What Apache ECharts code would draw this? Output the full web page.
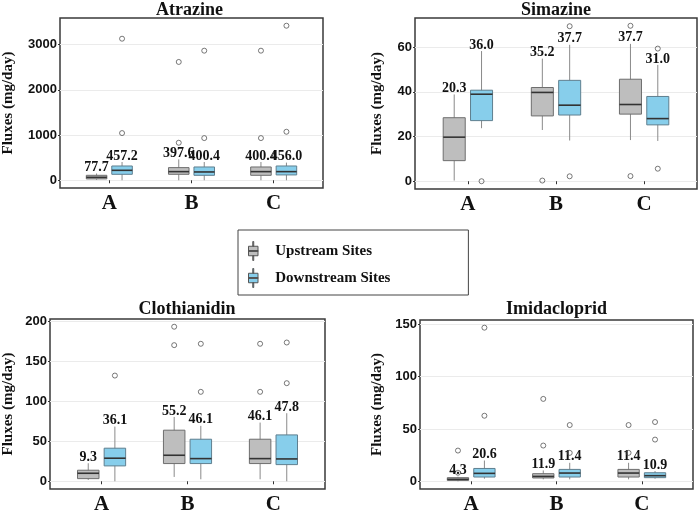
<!DOCTYPE html>
<html>
	<head>
		<title>Fluxes boxplots</title>
		<meta charset="utf-8"/>
		<style type="text/css">
			*{margin: 0;padding: 0;}
			html,body{background-color: #fff;}
			.charts{
				width: 700px;
				height: 520px;
			}
		</style>
		<script type="text/javascript" src="https://cdn.jsdelivr.net/npm/echarts@6/dist/echarts.min.js"></script>
	</head>
	<body>
		<div class="charts js-main"></div>
		<script type="text/javascript">
			var categories = ["A", "B", "C"];
			var groupNames = ["Upstream Sites", "Downstream Sites"];

			// [min, q1, median, q3, max] for A, B, C
			var atrazineUp = [[10, 30, 65, 110, 150], [0, 132, 191, 280, 463], [0, 110, 191, 294, 404]];
			var atrazineDown = [[0, 132, 220, 316, 404], [0, 110, 184, 294, 404], [0, 118, 191, 316, 390]];
			var atrazineUpMean = [77.7, 397.6, 400.4];
			var atrazineDownMean = [457.2, 400.4, 456.0];
			var atrazineUpOut = [[], [2617, 830], [2866, 933]];
			var atrazineDownOut = [[3131, 1044], [2866, 933], [3418, 1073]];
			var atrazineTicks = [0, 1000, 2000, 3000];

			var simazineUp = [[0.3, 9.2, 19.7, 28.4, 38.8], [22.9, 29.2, 39.7, 41.9, 54.8], [18.4, 30.0, 34.3, 45.6, 61.4]];
			var simazineDown = [[23.7, 27.1, 38.9, 40.7, 58.2], [18.2, 29.6, 34.0, 45.1, 61.0], [18.0, 25.2, 28.0, 37.9, 52.0]];
			var simazineUpMean = [20.3, 35.2, 37.7];
			var simazineDownMean = [36.0, 37.7, 31.0];
			var simazineUpOut = [[], [0.3], [69.5, 2.3]];
			var simazineDownOut = [[0], [69.3, 2.2], [59.3, 5.6]];
			var simazineTicks = [0, 20, 40, 60];

			var clothianidinUp = [[1.7, 3.3, 10, 13.8, 22.5], [5.4, 22.1, 32.5, 63.8, 80.4], [2.5, 22.1, 28.3, 52.5, 73.3]];
			var clothianidinDown = [[0, 19.2, 28.8, 41.3, 68.3], [2.5, 22.1, 28.3, 52.5, 69.2], [0, 20.8, 27.9, 57.9, 85]];
			var clothianidinUpMean = [9.3, 55.2, 46.1];
			var clothianidinDownMean = [36.1, 46.1, 47.8];
			var clothianidinUpOut = [[], [193, 170], [171.7, 111.7]];
			var clothianidinDownOut = [[132], [171.7, 111.7], [173.3, 122.5]];
			var clothianidinTicks = [0, 50, 100, 150, 200];

			var imidaclopridUp = [[0, 0.9, 1.9, 3.5, 4.4], [1.9, 3.2, 4.7, 7.3, 10.4], [1.9, 4.1, 7.9, 11.4, 17.7]];
			var imidaclopridDown = [[2.5, 4.1, 7.6, 12.3, 19.9], [1.9, 4.1, 7.9, 11.4, 17.7], [2.5, 3.5, 5.4, 8.2, 9.8]];
			var imidaclopridUpMean = [4.3, 11.9, 11.4];
			var imidaclopridDownMean = [20.6, 11.4, 10.9];
			var imidaclopridUpOut = [[8.2, 29.4], [78.8, 34.2], [53.8, 27.2]];
			var imidaclopridDownOut = [[146.9, 62.7], [53.8, 27.2], [56.7, 39.9]];
			var imidaclopridTicks = [0, 50, 100, 150];

			var panels = [
				{title: "Atrazine", up: atrazineUp, down: atrazineDown, upMean: atrazineUpMean, downMean: atrazineDownMean,
					upOut: atrazineUpOut, downOut: atrazineDownOut, ticks: atrazineTicks,
					grid: {left: 56, right: 377, top: 18, bottom: 332}, nameGap: 44, titleTop: 1},
				{title: "Simazine", up: simazineUp, down: simazineDown, upMean: simazineUpMean, downMean: simazineDownMean,
					upOut: simazineUpOut, downOut: simazineDownOut, ticks: simazineTicks,
					grid: {left: 415, right: 3, top: 18, bottom: 331}, nameGap: 30, titleTop: 1},
				{title: "Clothianidin", up: clothianidinUp, down: clothianidinDown, upMean: clothianidinUpMean, downMean: clothianidinDownMean,
					upOut: clothianidinUpOut, downOut: clothianidinDownOut, ticks: clothianidinTicks,
					grid: {left: 49, right: 375, top: 319, bottom: 31}, nameGap: 34, titleTop: 300},
				{title: "Imidacloprid", up: imidaclopridUp, down: imidaclopridDown, upMean: imidaclopridUpMean, downMean: imidaclopridDownMean,
					upOut: imidaclopridUpOut, downOut: imidaclopridDownOut, ticks: imidaclopridTicks,
					grid: {left: 420, right: 7, top: 320, bottom: 31}, nameGap: 35, titleTop: 300}
			];

			var SERIF = "'Liberation Serif', 'Times New Roman', serif";
			var SANS = "'Liberation Sans', Arial, sans-serif";
			var fills = ["#bebebe", "#87ceeb"];
			var borders = ["#6e6e6e", "#5f7f8f"];
			var DODGE = 0.155, BOX_W = 0.25;
			var legendIcon = "path://M4.5,0L5.5,0L5.5,5L4.5,5Z M0,5L10,5L10,15L0,15Z M0,9.5L10,9.5L10,10.5L0,10.5Z M4.5,15L5.5,15L5.5,20L4.5,20Z";

			var mainChart = echarts.init(document.querySelector(".js-main"), null, {renderer: "canvas"});

			function boxRender(g){
				return function(params, api){
					var x = api.value(0);
					var pMin = api.coord([x, api.value(1)]);
					var pQ1 = api.coord([x, api.value(2)]);
					var pMed = api.coord([x, api.value(3)]);
					var pQ3 = api.coord([x, api.value(4)]);
					var pMax = api.coord([x, api.value(5)]);
					var x0 = api.coord([x - BOX_W / 2, 0])[0];
					var x1 = api.coord([x + BOX_W / 2, 0])[0];
					return {
						type: "group",
						children: [
							{type: "line", shape: {x1: pMin[0], y1: pMin[1], x2: pMax[0], y2: pMax[1]},
								style: {stroke: "#8a8a8a", lineWidth: 1}},
							{type: "rect", shape: {x: x0, y: pQ3[1], width: x1 - x0, height: pQ1[1] - pQ3[1]},
								style: {fill: fills[g], stroke: borders[g], lineWidth: 1}},
							{type: "line", shape: {x1: x0, y1: pMed[1], x2: x1, y2: pMed[1]},
								style: {stroke: "#333", lineWidth: 1.6}},
							{type: "text", x: pMax[0], y: pMax[1] + 1,
								style: {text: api.value(6).toFixed(1), align: "center", verticalAlign: "bottom",
									fontFamily: SERIF, fontWeight: "bold", fontSize: 14, fill: "#111"}}
						]
					};
				};
			}

			var option = {
				animation: false,
				backgroundColor: "#fff",
				title: [],
				legend: {
					orient: "vertical",
					left: 238,
					top: 230,
					padding: [11, 78, 7, 10],
					itemGap: 7,
					itemWidth: 10,
					itemHeight: 19,
					borderColor: "#444",
					borderWidth: 1,
					data: [{name: groupNames[0], icon: legendIcon}, {name: groupNames[1], icon: legendIcon}],
					itemStyle: {borderColor: "#555", borderWidth: 1},
					textStyle: {fontFamily: SERIF, fontWeight: "bold", fontSize: 15, color: "#111", padding: [0, 0, 0, 12]}
				},
				grid: [],
				xAxis: [],
				yAxis: [],
				series: []
			};

			panels.forEach(function(p, i){
				var all = [];
				[p.up, p.down].forEach(function(s){ s.forEach(function(b){ all = all.concat(b); }); });
				[p.upOut, p.downOut].forEach(function(s){ s.forEach(function(o){ all = all.concat(o); }); });
				var lo = Math.min.apply(null, all), hi = Math.max.apply(null, all);
				var pad = (hi - lo) * 0.05;

				option.grid.push({left: p.grid.left, right: p.grid.right, top: p.grid.top, bottom: p.grid.bottom,
					show: true, borderColor: "#3a3a3a", borderWidth: 1.5});
				var gw = 700 - p.grid.left - p.grid.right;
				option.title.push({text: p.title, left: p.grid.left + gw / 2, top: p.titleTop, textAlign: "center", padding: 0,
					textStyle: {fontFamily: SERIF, fontWeight: "bold", fontSize: 18, color: "#111"}});
				option.xAxis.push({
					gridIndex: i, type: "value", min: 0.4, max: 3.6,
					axisLine: {show: false},
					splitLine: {show: false},
					axisTick: {show: true, customValues: [1, 2, 3], length: 3, lineStyle: {color: "#333"}},
					axisLabel: {customValues: [1, 2, 3], margin: 5,
						formatter: function(v){ return categories[Math.round(v) - 1]; },
						fontFamily: SERIF, fontWeight: "bold", fontSize: 21, color: "#111"}
				});
				option.yAxis.push({
					gridIndex: i, type: "value", min: lo - pad, max: hi + pad,
					name: "Fluxes (mg/day)", nameLocation: "middle", nameGap: p.nameGap,
					nameTextStyle: {fontFamily: SERIF, fontWeight: "bold", fontSize: 15, color: "#111"},
					axisLine: {show: false},
					axisTick: {show: true, customValues: p.ticks, length: 2, lineStyle: {color: "#333"}},
					axisLabel: {customValues: p.ticks, margin: 3, formatter: function(v){ return String(v); },
						fontFamily: SANS, fontWeight: "bold", fontSize: 13, color: "#111"},
					splitLine: {show: true, lineStyle: {color: "#ebebeb", width: 1}}
				});

				[[p.up, p.upMean, p.upOut], [p.down, p.downMean, p.downOut]].forEach(function(grp, g){
					var off = g === 0 ? -DODGE : DODGE;
					var boxes = grp[0].map(function(b, c){
						return [c + 1 + off].concat(b).concat([grp[1][c]]);
					});
					var outs = [];
					grp[2].forEach(function(o, c){
						o.forEach(function(v){ outs.push([c + 1 + off, v]); });
					});
					option.series.push({
						name: groupNames[g], type: "custom", xAxisIndex: i, yAxisIndex: i,
						itemStyle: {color: fills[g]},
						renderItem: boxRender(g),
						encode: {x: 0, y: [1, 2, 3, 4, 5]},
						data: boxes, z: 2
					});
					option.series.push({
						name: "out" + i + g, type: "scatter", xAxisIndex: i, yAxisIndex: i,
						symbol: "circle", symbolSize: 5,
						itemStyle: {color: "rgba(255,255,255,0)", borderColor: "#444", borderWidth: 0.9},
						data: outs, z: 3
					});
				});
			});

			mainChart.setOption(option);
		</script>
	</body>
</html>
